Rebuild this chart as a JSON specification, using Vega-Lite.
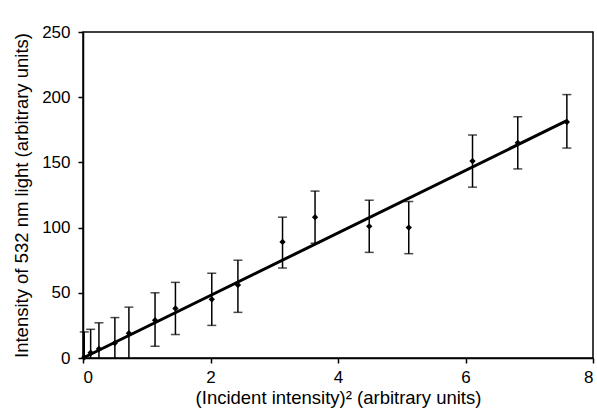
{
  "$schema": "https://vega.github.io/schema/vega-lite/v6.json",
  "width": 510,
  "height": 326,
  "autosize": {"type": "none"},
  "padding": {"left": 83, "top": 32, "right": 4, "bottom": 54},
  "background": "white",
  "config": {
    "font": "Liberation Sans",
    "view": {"stroke": "black", "strokeWidth": 1.5},
    "axis": {
      "grid": false,
      "domainColor": "black",
      "domainWidth": 1.5,
      "tickColor": "black",
      "tickWidth": 1.5,
      "tickSize": 5,
      "labelColor": "black",
      "labelFontSize": 17,
      "titleColor": "black",
      "titleFontSize": 18.5,
      "titleFontWeight": "normal"
    }
  },
  "datasets": {
    "pts": [
      {"x": 0.02, "y": 0.5, "lo": 0, "hi": 20},
      {"x": 0.12, "y": 4, "lo": 0, "hi": 22},
      {"x": 0.25, "y": 7, "lo": 0, "hi": 27},
      {"x": 0.5, "y": 11.5, "lo": 0, "hi": 31},
      {"x": 0.72, "y": 19, "lo": 0, "hi": 39},
      {"x": 1.13, "y": 29, "lo": 9, "hi": 50},
      {"x": 1.45, "y": 38, "lo": 18, "hi": 58},
      {"x": 2.02, "y": 45, "lo": 25, "hi": 65},
      {"x": 2.43, "y": 56, "lo": 35, "hi": 75},
      {"x": 3.13, "y": 89, "lo": 69, "hi": 108},
      {"x": 3.64, "y": 108, "lo": 88, "hi": 128},
      {"x": 4.49, "y": 101, "lo": 81, "hi": 121},
      {"x": 5.11, "y": 100, "lo": 80, "hi": 120},
      {"x": 6.11, "y": 151, "lo": 131, "hi": 171},
      {"x": 6.82, "y": 165, "lo": 145, "hi": 185},
      {"x": 7.59, "y": 181, "lo": 161, "hi": 202}
    ],
    "fit": [
      {"x": 0, "y": 0},
      {"x": 7.59, "y": 182}
    ]
  },
  "layer": [
    {
      "data": {"name": "pts"},
      "mark": {"type": "rule", "color": "black", "strokeWidth": 1.5},
      "encoding": {
        "x": {"field": "x", "type": "quantitative", "scale": {"domain": [0, 8], "nice": false, "padding": 0, "zero": false},
          "axis": {"values": [0, 2, 4, 6, 8], "format": "d", "title": "(Incident intensity)² (arbitrary units)", "labelPadding": 6, "titlePadding": 3}},
        "y": {"field": "lo", "type": "quantitative", "scale": {"domain": [0, 250], "nice": false, "padding": 0},
          "axis": {"values": [0, 50, 100, 150, 200, 250], "format": "d", "title": "Intensity of 532 nm light (arbitrary units)", "labelPadding": 8, "titlePadding": 10}},
        "y2": {"field": "hi"}
      }
    },
    {
      "data": {"name": "pts"},
      "mark": {"type": "tick", "orient": "horizontal", "color": "black", "size": 9, "thickness": 1.5},
      "encoding": {
        "x": {"field": "x", "type": "quantitative"},
        "y": {"field": "hi", "type": "quantitative"}
      }
    },
    {
      "data": {"name": "pts"},
      "transform": [{"filter": "datum.lo > 0"}],
      "mark": {"type": "tick", "orient": "horizontal", "color": "black", "size": 9, "thickness": 1.5},
      "encoding": {
        "x": {"field": "x", "type": "quantitative"},
        "y": {"field": "lo", "type": "quantitative"}
      }
    },
    {
      "data": {"name": "fit"},
      "mark": {"type": "line", "color": "black", "strokeWidth": 3},
      "encoding": {
        "x": {"field": "x", "type": "quantitative"},
        "y": {"field": "y", "type": "quantitative"}
      }
    },
    {
      "data": {"name": "pts"},
      "mark": {"type": "point", "shape": "diamond", "filled": true, "color": "black", "size": 40, "opacity": 1},
      "encoding": {
        "x": {"field": "x", "type": "quantitative"},
        "y": {"field": "y", "type": "quantitative"}
      }
    }
  ]
}
